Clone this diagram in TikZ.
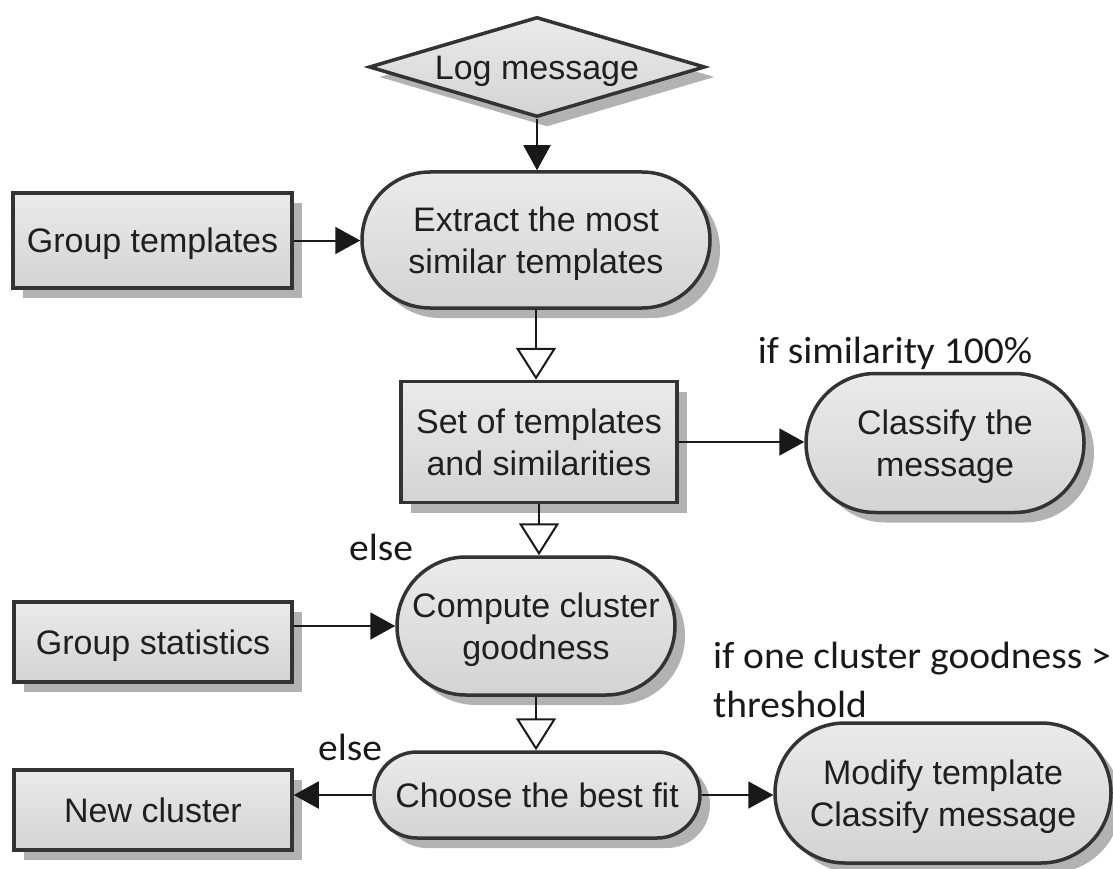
\documentclass[tikz,border=0pt]{standalone}
\usepackage{fontspec}
\setmainfont{Liberation Sans}
\newfontfamily\labfont[FakeStretch=1.04]{Carlito}
\usetikzlibrary{shapes.geometric,shapes.misc,shadows,arrows.meta}
\newcommand\ctext[1]{\hbox to 0pt{\hss\raisebox{-4pt}[\height][\depth]{\begin{tabular}{@{}c@{}}#1\end{tabular}}\hss}}
\begin{document}
\begin{tikzpicture}[x=1pt,y=-1pt,
  box/.style={draw=black!80, line width=3.5pt, top color=black!8, bottom color=black!17,
    drop shadow={shadow xshift=10pt, shadow yshift=-10pt, fill=black!30, opacity=1},
    font=\fontsize{34}{42}\selectfont, text=black!88, inner sep=0pt},
  rectbox/.style={box, rectangle},
  pill/.style={box, rounded rectangle},
  dbox/.style={box, diamond},
  lab/.style={font=\labfont\fontsize{38}{49}\selectfont, text=black!90, inner sep=0pt},
  arr/.style={line width=2pt, draw=black!90, -{Triangle[length=25pt,width=27pt]}},
  oarr/.style={line width=2pt, draw=black!90, -{Triangle[open,length=32pt,width=40pt,fill=white]}}
]
\useasboundingbox (0,0) rectangle (1113,869);
\fill[white] (0,0) rectangle (1113,869);

\node[dbox, minimum width=336pt, minimum height=100pt] (log) at (537,67) {\ctext{Log message}};
\node[pill, minimum width=348pt, minimum height=136pt] (extract) at (536,240) {\ctext{Extract the most\\similar templates}};
\node[rectbox, minimum width=279pt, minimum height=95pt] (gtempl) at (152.5,240.5) {\ctext{Group templates}};
\node[rectbox, minimum width=276pt, minimum height=121pt] (set) at (539,442) {\ctext{Set of templates\\and similarities}};
\node[pill, minimum width=278pt, minimum height=139pt] (classify) at (945,443) {\ctext{Classify the\\message}};
\node[pill, minimum width=278pt, minimum height=138pt] (compute) at (536,626) {\ctext{Compute cluster\\goodness}};
\node[rectbox, minimum width=278pt, minimum height=80pt] (gstat) at (153,642) {\ctext{Group statistics}};
\node[pill, minimum width=326pt, minimum height=86pt] (choose) at (537,795) {\ctext{Choose the best fit}};
\node[rectbox, minimum width=278pt, minimum height=80pt] (newc) at (153,810) {\ctext{New cluster}};
\node[pill, minimum width=336pt, minimum height=140pt] (modify) at (943,793) {\ctext{Modify template\\Classify message}};

\node[lab, anchor=base] (simlab) at (895,363) {if similarity 100\%};
\node[lab, anchor=base] (else1) at (381,560) {else};
\node[lab, anchor=base] (else2) at (350,760) {else};
\node[lab, anchor=base west] (thrlab) at (713,668) {\vtop{\hbox{if one cluster goodness >}\hbox{threshold}}};

\draw[arr] (log.south) -- (log.south |- extract.north);
\draw[arr] (gtempl.east) -- (gtempl.east -| extract.west);
\draw[oarr] (extract.south) -- (extract.south |- set.north);
\draw[arr] (set.east) -- (set.east -| classify.west);
\draw[oarr] (set.south) -- (set.south |- compute.north);
\draw[arr] (compute.west -| gstat.east) -- (compute.west);
\draw[oarr] (compute.south) -- (compute.south |- choose.north);
\draw[arr] (choose.west) -- (choose.west -| newc.east);
\draw[arr] (choose.east) -- (choose.east -| modify.west);
\end{tikzpicture}
\end{document}
